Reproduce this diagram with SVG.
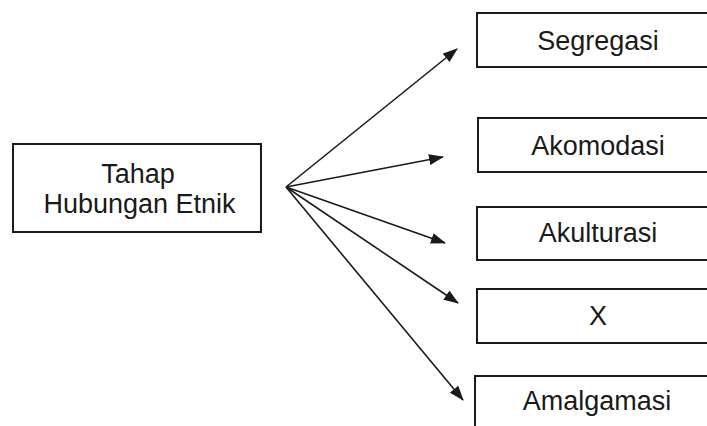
<svg xmlns="http://www.w3.org/2000/svg" width="707" height="426" viewBox="0 0 707 426">
<style>
.box{fill:#fff;stroke:#1a1a1a;stroke-width:2}
.t{font-family:"Liberation Sans",Arial,sans-serif;font-size:27px;fill:#1a1a1a;text-anchor:middle}
.c{stroke:#1a1a1a;stroke-width:1.6;fill:none}
</style>
<defs>
<marker id="ah" markerWidth="15" markerHeight="11" refX="14" refY="5.5" orient="auto" markerUnits="userSpaceOnUse">
<path d="M0,0 L15,5.5 L0,11 Z" fill="#1a1a1a"/>
</marker>
</defs>
<rect width="707" height="426" fill="#fff"/>
<g id="tahap">
<rect class="box" x="13" y="144" width="248" height="88"/>
<text class="t" x="138" y="183">Tahap</text>
<text class="t" x="139.5" y="213">Hubungan Etnik</text>
</g>
<g id="segregasi">
<rect class="box" x="477" y="13" width="250" height="54"/>
<text class="t" x="598" y="50">Segregasi</text>
</g>
<g id="akomodasi">
<rect class="box" x="478" y="118" width="250" height="54"/>
<text class="t" x="598" y="155">Akomodasi</text>
</g>
<g id="akulturasi">
<rect class="box" x="477" y="207" width="250" height="53"/>
<text class="t" x="598" y="242">Akulturasi</text>
</g>
<g id="x">
<rect class="box" x="477" y="289" width="250" height="54"/>
<text class="t" x="598" y="325">X</text>
</g>
<g id="amalgamasi">
<rect class="box" x="475" y="376" width="250" height="60"/>
<text class="t" x="597" y="410">Amalgamasi</text>
</g>
<g id="connectors">
<line class="c" x1="286" y1="187" x2="457" y2="49" marker-end="url(#ah)"/>
<line class="c" x1="286" y1="187" x2="443" y2="157" marker-end="url(#ah)"/>
<line class="c" x1="286" y1="187" x2="445" y2="243" marker-end="url(#ah)"/>
<line class="c" x1="286" y1="187" x2="458" y2="303" marker-end="url(#ah)"/>
<line class="c" x1="286" y1="187" x2="463" y2="400" marker-end="url(#ah)"/>
</g>
</svg>
